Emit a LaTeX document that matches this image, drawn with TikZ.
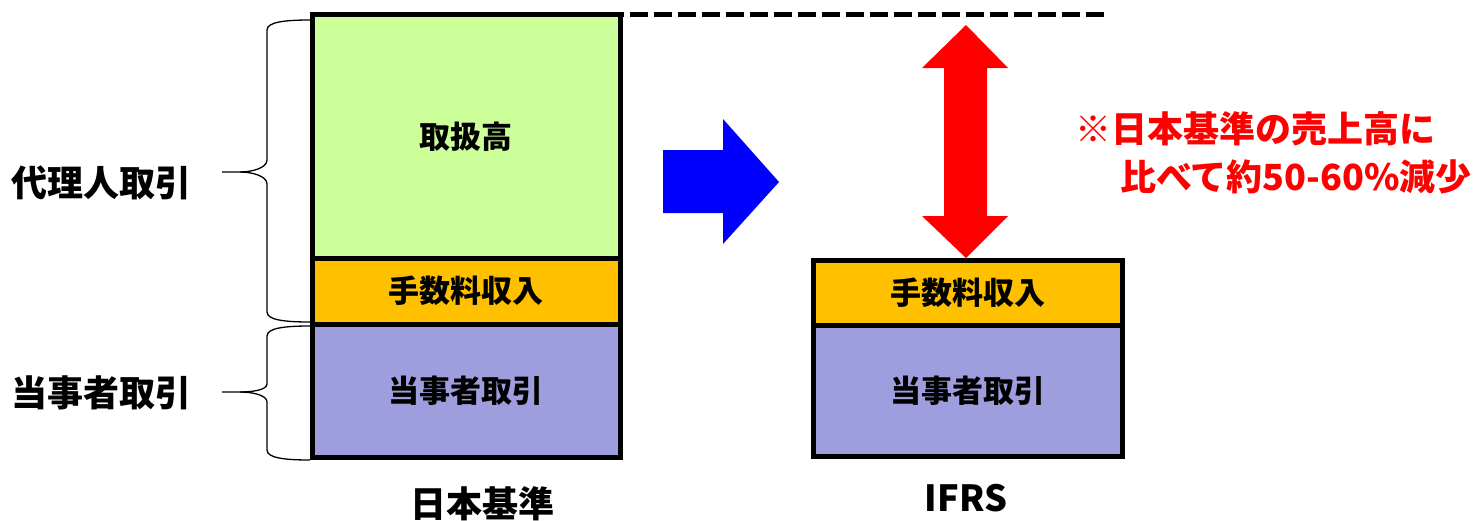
\documentclass[tikz,border=0pt]{standalone}
\usepackage{fontspec}
\setmainfont{Noto Sans CJK JP}
\definecolor{cgreen}{HTML}{CCFF99}
\definecolor{corange}{HTML}{FFC000}
\definecolor{cpurple}{HTML}{9E9EDE}
\definecolor{cblue}{HTML}{0000FF}
\definecolor{cred}{HTML}{FF0000}
\begin{document}
\begin{tikzpicture}[x=1pt,y=-1pt,
  box/.style={draw=black, line width=5pt, inner sep=0pt, outer sep=0pt, font=\bfseries\fontsize{31}{36}\selectfont},
  label/.style={font=\bfseries\fontsize{36}{40}\selectfont, inner sep=0pt},
  note/.style={font=\bfseries\fontsize{36}{40}\selectfont, text=cred, inner sep=0pt, anchor=west},
  brace/.style={draw=black, line width=1.3pt}]
\useasboundingbox (0,0) rectangle (1475,520);
% left stack
\node[box, fill=cgreen, minimum width=308pt, minimum height=243.5pt] (gross) at (466,136.25) {取扱高};
\node[box, fill=corange, minimum width=308pt, minimum height=66pt] (fee) at (466,291) {手数料収入};
\node[box, fill=cpurple, minimum width=308pt, minimum height=133pt] (prin) at (466,390.5) {当事者取引};
% right stack
\node[box, fill=corange, minimum width=309pt, minimum height=65pt] (fee2) at (967.5,292.5) {手数料収入};
\node[box, fill=cpurple, minimum width=309pt, minimum height=131pt] (prin2) at (967.5,390.5) {当事者取引};
% dashed line
\coordinate (dend) at (1105,14.5);
\draw[line width=5pt, dash pattern=on 18pt off 6pt, dash phase=-10pt] (gross.north east) -- (dend);
% braces
\draw[brace] (310,20) .. controls (285,20) and (267,22) .. (267,30) -- (267,160)
  .. controls (267,168) and (252,172) .. (240,172) -- (222,172);
\draw[brace] (240,172) .. controls (252,172) and (267,176) .. (267,184) -- (267,312)
  .. controls (267,320) and (285,322) .. (310,322);
\draw[brace] (310,326) .. controls (285,326) and (267,328) .. (267,336) -- (267,384)
  .. controls (267,390) and (252,392) .. (240,392) -- (222,392);
\draw[brace] (240,392) .. controls (252,392) and (267,395) .. (267,402) -- (267,450)
  .. controls (267,458) and (285,460) .. (310,460);
% side labels
\node[label] (agent) at (102,183) {代理人取引};
\node[label] (princ) at (102,393) {当事者取引};
\node[label] (jp) at (482,504) {日本基準};
\node[label] (ifrs) at (966,498) {IFRS};
% blue arrow
\fill[cblue] (663,150) -- (723,150) -- (723,119) -- (779,182) -- (723,244) -- (723,213) -- (663,213) -- cycle;
% red double arrow
\fill[cred] (966,25) -- (1008,68) -- (987,68) -- (987,216) -- (1008,216) -- (966,258)
  -- (922,216) -- (944,216) -- (944,68) -- (922,68) -- cycle;
% note
\node[note] (n1) at (1075,129) {※日本基準の売上高に};
\node[note] (n2) at (1120,177) {比べて約50-60\%減少};
\end{tikzpicture}
\end{document}
